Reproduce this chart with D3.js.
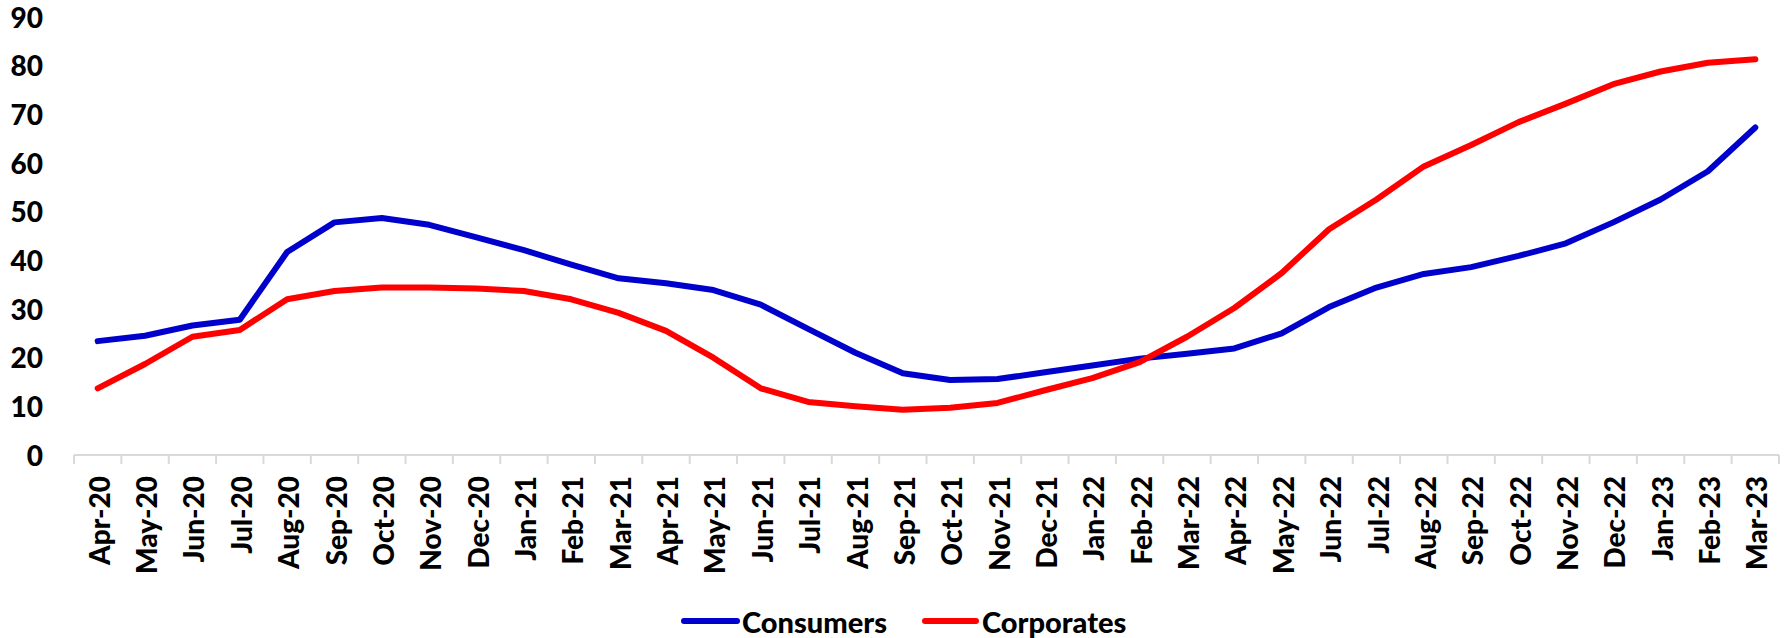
<!DOCTYPE html>
<html>
<head>
<meta charset="utf-8">
<script src="https://cdn.jsdelivr.net/npm/d3@7"></script>
<style>
  html, body { margin: 0; padding: 0; background: #fff; }
  svg { display: block; }
  text { font-family: Lato, "Open Sans", sans-serif; font-weight: 900; fill: #000; }
</style>
</head>
<body>
<svg id="chart" width="1789" height="638"></svg>
<script>
const categories = ["Apr-20","May-20","Jun-20","Jul-20","Aug-20","Sep-20","Oct-20","Nov-20","Dec-20",
  "Jan-21","Feb-21","Mar-21","Apr-21","May-21","Jun-21","Jul-21","Aug-21","Sep-21","Oct-21","Nov-21","Dec-21",
  "Jan-22","Feb-22","Mar-22","Apr-22","May-22","Jun-22","Jul-22","Aug-22","Sep-22","Oct-22","Nov-22","Dec-22",
  "Jan-23","Feb-23","Mar-23"];

const consumers = [23.4,24.5,26.6,27.8,41.7,47.8,48.7,47.3,44.7,
  42.1,39.1,36.3,35.3,33.9,30.9,25.9,21.0,16.8,15.4,15.6,17.0,
  18.4,19.8,20.8,21.9,25.0,30.4,34.4,37.2,38.6,40.9,43.5,47.8,
  52.5,58.3,67.3];

const corporates = [13.7,18.7,24.3,25.7,32.0,33.7,34.4,34.4,34.2,
  33.7,32.0,29.2,25.5,20.0,13.7,10.9,10.0,9.3,9.7,10.7,13.3,
  15.8,19.1,24.3,30.2,37.4,46.4,52.5,59.3,63.7,68.4,72.2,76.2,
  78.8,80.6,81.3];

const yTicks = [0,10,20,30,40,50,60,70,80,90];
const seriesNames = ["Consumers","Corporates"];
const seriesColors = ["#0000CC","#FF0000"];

const svg = d3.select("#chart");
const pLeft = 74, pRight = 1779, pTop = 17, pBottom = 455;

const x = d3.scalePoint().domain(categories).range([pLeft, pRight]).padding(0.5);
const y = d3.scaleLinear().domain([0, 90]).range([pBottom, pTop]);
const step = x.step();

// Y axis labels (no axis line)
const yAxis = d3.axisLeft(y).tickValues(yTicks).tickSize(0).tickPadding(0).tickFormat(d3.format("d"));
const gy = svg.append("g").attr("transform", `translate(${43},0)`).call(yAxis);
gy.select(".domain").remove();
gy.selectAll("text").attr("font-size", 28).attr("dy", "0.36em")
  .style("font-family", "Lato, sans-serif").style("font-weight", "900").attr("fill", "#000");

// X axis line with boundary ticks
const gx = svg.append("g");
gx.append("line").attr("x1", pLeft).attr("x2", pRight).attr("y1", pBottom).attr("y2", pBottom)
  .attr("stroke", "#d9d9d9").attr("stroke-width", 2);
const boundaries = categories.map(c => x(c) - step / 2).concat([x(categories[categories.length - 1]) + step / 2]);
gx.selectAll("line.tick").data(boundaries).enter().append("line").attr("class", "tick")
  .attr("x1", d => d).attr("x2", d => d).attr("y1", pBottom).attr("y2", pBottom + 9)
  .attr("stroke", "#d9d9d9").attr("stroke-width", 2);

gx.selectAll("text.xl").data(categories).enter().append("text").attr("class", "xl")
  .attr("transform", d => `translate(${x(d) + 2},${476}) rotate(-90)`)
  .attr("text-anchor", "end").attr("dy", "0.36em").attr("font-size", 28)
  .text(d => d);

// Lines
const line = d3.line().x((d, i) => x(categories[i])).y(d => y(d));
[consumers, corporates].forEach((vals, i) => {
  svg.append("path").datum(vals).attr("d", line)
    .attr("fill", "none").attr("stroke", seriesColors[i]).attr("stroke-width", 6)
    .attr("stroke-linejoin", "round").attr("stroke-linecap", "round");
});

// Legend
const legendItems = [{x1: 684, x2: 737, tx: 742}, {x1: 925, x2: 976, tx: 982}];
legendItems.forEach((it, i) => {
  svg.append("line").attr("x1", it.x1).attr("x2", it.x2).attr("y1", 621).attr("y2", 621)
    .attr("stroke", seriesColors[i]).attr("stroke-width", 6).attr("stroke-linecap", "round");
  svg.append("text").attr("x", it.tx).attr("y", 623).attr("dy", "0.36em").attr("font-size", 29)
    .text(seriesNames[i]);
});
</script>
</body>
</html>
